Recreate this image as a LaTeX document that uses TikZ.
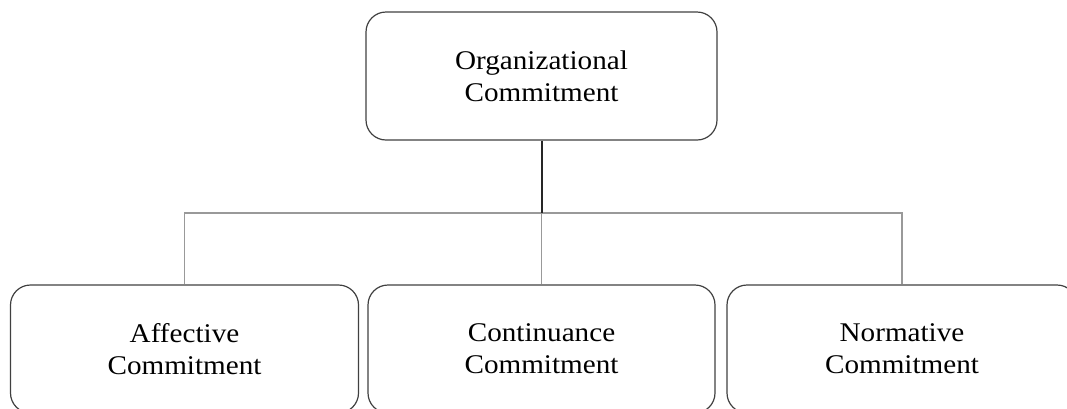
\documentclass[tikz,border=0pt]{standalone}
\usepackage{fontspec}
\setmainfont{Liberation Serif}[FakeStretch=1.08]
\begin{document}
\begin{tikzpicture}[x=1pt,y=-1pt,
  box/.style={draw=black!75, line width=1.2pt, rounded corners=20pt, align=center,
    font=\fontsize{27}{32}\selectfont, inner sep=0pt, text=black},
  stem/.style={draw=black!85, line width=2pt},
  branch/.style={draw=black!40, line width=1.3pt}]
\useasboundingbox (0,0) rectangle (1067,408);
\clip (0,0) rectangle (1067,408);
\node[box, minimum width=351pt, minimum height=128pt] (org) at (541.5,76) {Organizational\\Commitment};
\node[box, minimum width=348pt, minimum height=128pt] (aff) at (184.5,349) {Affective\\Commitment};
\node[box, minimum width=347pt, minimum height=128pt] (con) at (541.5,349) {Continuance\\Commitment};
\node[box, minimum width=350pt, minimum height=128pt] (nor) at (902,349) {Normative\\Commitment};
\coordinate (j) at (541.5,213);
\draw[branch] (aff.north) |- (j) -| (nor.north);
\draw[branch] (j) -- (con.north);
\draw[stem] (org.south) -- (j);
\end{tikzpicture}
\end{document}
